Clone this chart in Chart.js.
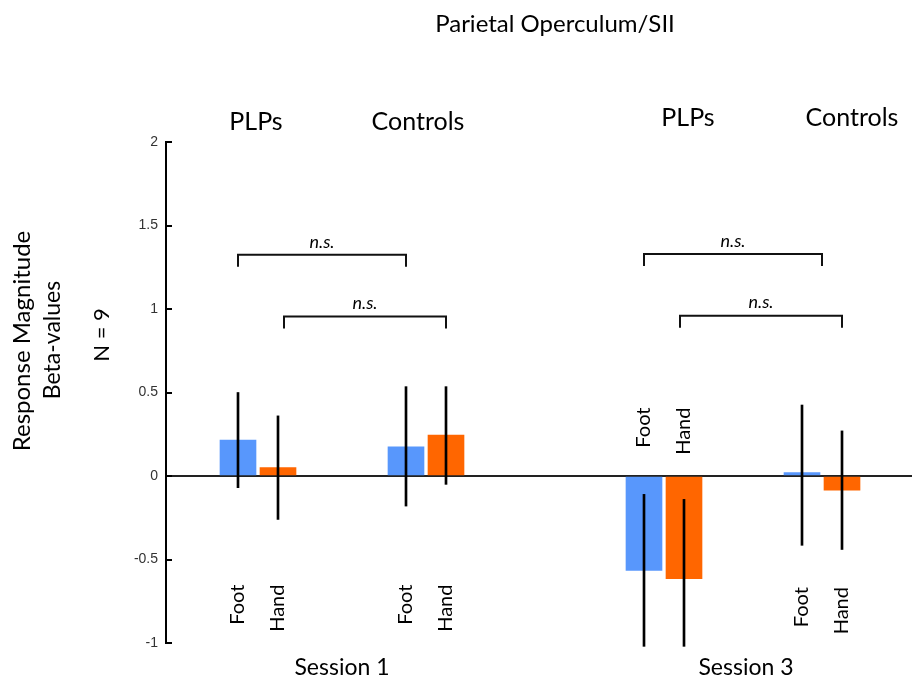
<!DOCTYPE html>
<html>
<head>
<meta charset="utf-8">
<title>Parietal Operculum/SII</title>
<script src="https://cdn.jsdelivr.net/npm/chart.js@4.4.0/dist/chart.umd.min.js"></script>
<style>
    html, body { margin: 0; padding: 0; background: #fff; }
    #wrap { width: 912px; height: 680px; position: relative; }
</style>
</head>
<body>
<div id="wrap"><canvas id="betaChart"></canvas></div>
<script>
// data
const groups = ['PLPs', 'Controls', 'PLPs', 'Controls'];
const sessions = ['Session 1', 'Session 3'];
const conditions = ['Foot', 'Hand'];
const footMean = [0.215, 0.175, -0.565, 0.02];
const handMean = [0.05, 0.245, -0.615, -0.085];
const footLow = [-0.07, -0.18, -1.02, -0.415];
const footHigh = [0.5, 0.535, -0.11, 0.425];
const handLow = [-0.26, -0.05, -1.02, -0.44];
const handHigh = [0.36, 0.535, -0.14, 0.27];
const yTicks = [-1, -0.5, 0, 0.5, 1, 1.5, 2];
const compLabel = 'n.s.';

// layout along the x axis (axis units)
const groupPos = [2.3, 6.5, 12.45, 16.4];
const groupLabelPos = [2.25, 6.3, 13.05, 17.15];
const condLabelTop = [-0.65, -0.65, 0.41, -0.665];
const sessionPos = [4.4, 14.5];
const comparisons = [
    { from: 1.8, to: 6.0, y: 1.325 },
    { from: 2.95, to: 7.0, y: 0.955 },
    { from: 11.95, to: 16.4, y: 1.33 },
    { from: 12.85, to: 16.9, y: 0.96 }
];

const FONT = 'Lato, "Open Sans", sans-serif';
const BLUE = '#5897fc';
const ORANGE = '#ff6600';

const footX = groupPos.map(p => p - 0.5);
const handX = groupPos.map(p => p + 0.5);

const labelsPlugin = {
    id: 'figureText',
    afterDraw(chart) {
        const ctx = chart.ctx;
        const x = chart.scales.x;
        const y = chart.scales.y;
        ctx.save();
        ctx.fillStyle = '#000';

        // title
        ctx.font = '24px ' + FONT;
        ctx.textAlign = 'center';
        ctx.textBaseline = 'middle';
        ctx.fillText('Parietal Operculum/SII', 555, 24);

        // group labels over each pair of bars
        ctx.font = '25px ' + FONT;
        groups.forEach((g, i) => {
            ctx.fillText(g, x.getPixelForValue(groupLabelPos[i]), i < 2 ? 122 : 118);
        });

        // session labels under the axis
        ctx.font = '23px ' + FONT;
        sessions.forEach((s, i) => {
            ctx.fillText(s, x.getPixelForValue(sessionPos[i]), 668);
        });

        // Foot / Hand written upwards next to the bars
        ctx.font = '20px ' + FONT;
        groups.forEach((g, i) => {
            const top = y.getPixelForValue(condLabelTop[i]);
            [footX[i], handX[i]].forEach((px, j) => {
                ctx.save();
                ctx.translate(x.getPixelForValue(px), top);
                ctx.rotate(-Math.PI / 2);
                ctx.textAlign = 'right';
                ctx.textBaseline = 'middle';
                ctx.fillText(conditions[j], 0, 0);
                ctx.restore();
            });
        });

        // y axis title
        const ytitle = [['Response Magnitude', 22, 341, 24], ['Beta-values', 53, 340, 23], ['N = 9', 102, 335, 22]];
        ytitle.forEach(([t, tx, ty, size]) => {
            ctx.save();
            ctx.translate(tx, ty);
            ctx.rotate(-Math.PI / 2);
            ctx.font = size + 'px ' + FONT;
            ctx.textAlign = 'center';
            ctx.textBaseline = 'middle';
            ctx.fillText(t, 0, 0);
            ctx.restore();
        });

        // n.s. brackets
        ctx.strokeStyle = '#111';
        ctx.lineWidth = 2;
        comparisons.forEach(c => {
            const x1 = x.getPixelForValue(c.from);
            const x2 = x.getPixelForValue(c.to);
            const yy = y.getPixelForValue(c.y);
            ctx.beginPath();
            ctx.moveTo(x1, yy + 12);
            ctx.lineTo(x1, yy);
            ctx.lineTo(x2, yy);
            ctx.lineTo(x2, yy + 12);
            ctx.stroke();
            ctx.font = 'italic 18px ' + FONT;
            ctx.textAlign = 'center';
            ctx.textBaseline = 'middle';
            ctx.fillText(compLabel, (x1 + x2) / 2, yy - 13);
        });
        ctx.restore();
    }
};

document.addEventListener('DOMContentLoaded', function () {
    const el = document.getElementById('betaChart');
    new Chart(el, {
        type: 'bar',
        data: {
            datasets: [{
                label: 'Foot SE',
                data: footX.map((px, i) => ({ x: px, y: [footLow[i], footHigh[i]] })),
                backgroundColor: '#000',
                barThickness: 2,
                grouped: false,
                clip: false,
                order: 0
            }, {
                label: 'Hand SE',
                data: handX.map((px, i) => ({ x: px, y: [handLow[i], handHigh[i]] })),
                backgroundColor: '#000',
                barThickness: 2,
                grouped: false,
                clip: false,
                order: 0
            }, {
                label: 'Foot',
                data: footX.map((px, i) => ({ x: px, y: footMean[i] })),
                backgroundColor: BLUE,
                barThickness: 36,
                grouped: false,
                order: 1
            }, {
                label: 'Hand',
                data: handX.map((px, i) => ({ x: px, y: handMean[i] })),
                backgroundColor: ORANGE,
                barThickness: 36,
                grouped: false,
                order: 1
            }]
        },
        options: {
            responsive: true,
            maintainAspectRatio: false,
            animation: false,
            devicePixelRatio: 1,
            layout: { padding: { top: 142, bottom: 37, left: 0, right: 0 } },
            plugins: {
                legend: { display: false },
                tooltip: { enabled: false }
            },
            scales: {
                x: {
                    type: 'linear',
                    min: 0,
                    max: 18.65,
                    offset: false,
                    display: false
                },
                y: {
                    min: -1,
                    max: 2,
                    z: 1,
                    afterFit: s => { s.width = 166; },
                    afterBuildTicks: s => { s.ticks = yTicks.map(v => ({ value: v })); },
                    border: { display: true, color: '#000', width: 2 },
                    grid: {
                        color: c => (c.tick && c.tick.value === 0 ? '#222' : 'rgba(0,0,0,0)'),
                        lineWidth: 2,
                        tickLength: -6,
                        tickColor: '#000',
                        tickWidth: 2
                    },
                    ticks: {
                        color: '#333',
                        padding: 14,
                        font: { family: '"Liberation Sans", Arial, sans-serif', size: 14 },
                        callback: v => String(v)
                    }
                }
            }
        },
        plugins: [labelsPlugin]
    });
});
</script>
</body>
</html>
